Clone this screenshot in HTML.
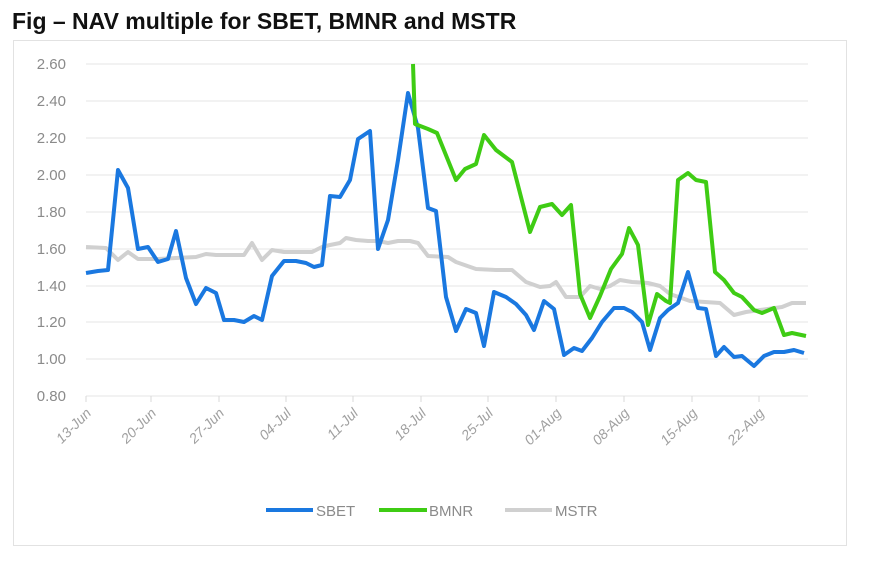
<!DOCTYPE html>
<html><head><meta charset="utf-8"><style>
body{margin:0;background:#fff;width:870px;height:558px;overflow:hidden;font-family:"Liberation Sans",sans-serif}
</style></head><body>
<svg width="870" height="558" xmlns="http://www.w3.org/2000/svg" font-family="Liberation Sans, sans-serif">
<text x="12" y="29" font-size="23" font-weight="bold" fill="#111">Fig – NAV multiple for SBET, BMNR and MSTR</text>
<rect x="13.5" y="40.5" width="833" height="505" fill="#fff" stroke="#e2e2e2"/>
<g stroke="#e4e4e4" stroke-width="1">
<line x1="86" x2="808" y1="64" y2="64"/><line x1="86" x2="808" y1="101" y2="101"/>
<line x1="86" x2="808" y1="138" y2="138"/><line x1="86" x2="808" y1="175" y2="175"/>
<line x1="86" x2="808" y1="212" y2="212"/><line x1="86" x2="808" y1="249" y2="249"/>
<line x1="86" x2="808" y1="286" y2="286"/><line x1="86" x2="808" y1="322" y2="322"/>
<line x1="86" x2="808" y1="359" y2="359"/><line x1="86" x2="808" y1="396" y2="396"/>
</g>
<g stroke="#d8d8d8"><line x1="86" x2="86" y1="396" y2="402"/><line x1="151" x2="151" y1="396" y2="402"/><line x1="219" x2="219" y1="396" y2="402"/><line x1="286" x2="286" y1="396" y2="402"/><line x1="353" x2="353" y1="396" y2="402"/><line x1="421" x2="421" y1="396" y2="402"/><line x1="488" x2="488" y1="396" y2="402"/><line x1="556" x2="556" y1="396" y2="402"/><line x1="624" x2="624" y1="396" y2="402"/><line x1="692" x2="692" y1="396" y2="402"/><line x1="759" x2="759" y1="396" y2="402"/></g>
<g font-size="15" fill="#8a8a8a" text-anchor="end">
<text x="66" y="69">2.60</text><text x="66" y="106">2.40</text><text x="66" y="143">2.20</text><text x="66" y="180">2.00</text><text x="66" y="217">1.80</text><text x="66" y="254">1.60</text><text x="66" y="291">1.40</text><text x="66" y="327">1.20</text><text x="66" y="364">1.00</text><text x="66" y="401">0.80</text>
</g>
<g font-size="14" fill="#a0a0a0" text-anchor="end" font-style="italic">
<text transform="translate(92,414) rotate(-45)">13-Jun</text>
<text transform="translate(157,414) rotate(-45)">20-Jun</text>
<text transform="translate(225,414) rotate(-45)">27-Jun</text>
<text transform="translate(292,414) rotate(-45)">04-Jul</text>
<text transform="translate(359,414) rotate(-45)">11-Jul</text>
<text transform="translate(427,414) rotate(-45)">18-Jul</text>
<text transform="translate(494,414) rotate(-45)">25-Jul</text>
<text transform="translate(562,414) rotate(-45)">01-Aug</text>
<text transform="translate(630,414) rotate(-45)">08-Aug</text>
<text transform="translate(698,414) rotate(-45)">15-Aug</text>
<text transform="translate(765,414) rotate(-45)">22-Aug</text>
</g>
<g fill="none" stroke-width="4" stroke-linejoin="round">
<polyline stroke="#d0d0d0" points="86,247 106,248 118,260 128,252 138,259 158,259 176,258 196,257 206,254 216,255 244,255 252,243 262,260 272,250 284,252 312,252 322,247 330,245 340,243 346,238 356,240 368,241 378,241 388,243 398,241 410,241 418,243 428,256 448,257 456,262 476,269 496,270 512,270 526,282 540,287 550,286 556,282 566,297 580,297 590,286 600,289 610,286 620,280 632,282 648,283 660,286 670,294 690,301 720,303 734,315 746,312 760,310 782,307 792,303 806,303"/>
<polyline stroke="#1a78e0" points="86,273 98,271 108,270 118,170 128,188 138,249 148,247 158,262 168,259 176,231 186,278 196,304 206,288 216,293 224,320 234,320 244,322 254,316 262,320 272,276 284,261 296,261 306,263 314,267 322,265 330,196 340,197 350,180 358,139 370,131 378,249 388,220 398,160 408,93 418,128 428,208 436,211 446,297 456,331 466,309 476,313 484,346 494,292 506,297 516,304 526,315 534,330 544,301 554,309 564,355 574,348 582,351 592,338 602,322 614,308 624,308 632,312 642,322 650,350 660,318 668,310 678,303 688,272 698,308 706,309 716,356 724,347 734,357 742,356 754,366 764,356 774,352 784,352 794,350 804,353"/>
<polyline stroke="#3fcc14" points="413,64 415,124 428,129 437,133 456,180 465,169 476,164 484,135 496,150 512,162 530,232 540,207 552,204 562,215 571,205 580,294 590,318 600,296 611,269 622,254 629,228 638,245 648,325 657,294 666,301 670,303 678,180 688,173 696,180 706,182 715,272 724,280 734,293 742,297 754,310 762,313 774,308 784,335 792,333 806,336"/>
</g>
<g stroke-width="4"><line x1="266" x2="313" y1="510" y2="510" stroke="#1a78e0"/><line x1="379" x2="427" y1="510" y2="510" stroke="#3fcc14"/><line x1="505" x2="552" y1="510" y2="510" stroke="#d0d0d0"/></g>
<g font-size="15" fill="#8a8a8a"><text x="316" y="516">SBET</text><text x="429" y="516">BMNR</text><text x="555" y="516">MSTR</text></g>
</svg>
</body></html>
